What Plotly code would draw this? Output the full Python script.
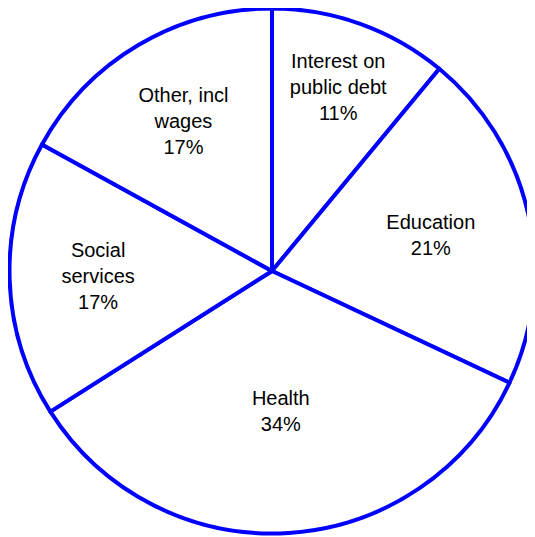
import plotly.graph_objects as go

categories = ["Interest on\npublic debt", "Education", "Health", "Social\nservices", "Other, incl\nwages"]
shares = [11, 21, 34, 17, 17]

display_labels = [c.replace("\n", "<br>") for c in categories]

W, H = 535, 537
fig = go.Figure(
    go.Pie(
        labels=display_labels,
        values=shares,
        sort=False,
        direction="clockwise",
        rotation=0,
        marker=dict(colors=["white"] * len(shares), line=dict(color="#0000FF", width=4)),
        texttemplate="%{label}<br>%{value}%",
        textposition="inside",
        insidetextorientation="horizontal",
        textfont=dict(family="Liberation Sans, Arial, sans-serif", size=20, color="black"),
        hoverinfo="label+percent",
        domain=dict(x=[1.5 / W, 526.5 / W], y=[11.5 / H, 536.5 / H]),
        showlegend=False,
    )
)

fig.update_layout(
    width=W,
    height=H,
    margin=dict(l=0, r=0, t=0, b=0),
    paper_bgcolor="white",
    plot_bgcolor="white",
    uniformtext=dict(minsize=20, mode="show"),
)

fig.write_html("out.html")
